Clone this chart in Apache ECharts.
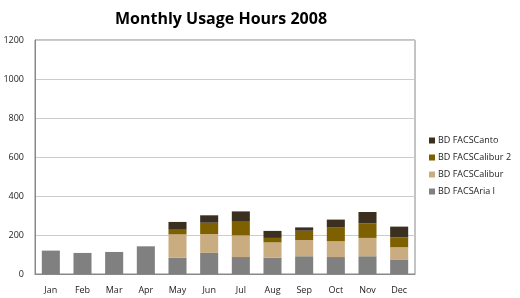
<!DOCTYPE html>
<html>
<head>
<meta charset="utf-8">
<script src="https://cdn.jsdelivr.net/npm/echarts@6/dist/echarts.min.js"></script>
<style>
html,body{margin:0;padding:0;background:#fff;}
#chart{width:520px;height:298px;}
</style>
</head>
<body>
<div id="chart"></div>
<script>
// monthly hours per instrument
var months = ['Jan','Feb','Mar','Apr','May','Jun','Jul','Aug','Sep','Oct','Nov','Dec'];
var ariaI     = [120, 108, 113, 142, 84, 108, 87, 84, 91, 87, 91, 72];
var calibur   = [0, 0, 0, 0, 119, 97, 111, 78, 83, 81, 94, 65];
var calibur2  = [0, 0, 0, 0, 24, 58, 70, 23, 48, 70, 75, 51];
var canto     = [0, 0, 0, 0, 40, 38, 53, 36, 17, 41, 58, 55];
var seriesNames = ['BD FACSAria I','BD FACSCalibur','BD FACSCalibur 2','BD FACSCanto'];
var seriesColors = ['#808080','#c9ad80','#7f6000','#3b3020'];
var yTicks = [0, 200, 400, 600, 800, 1000, 1200];

var chart = echarts.init(document.getElementById('chart'));
var font = "'Open Sans', 'Noto Sans', sans-serif";

function makeSeries(name, data, idx){
	return {
		name: name,
		type: 'bar',
		stack: 'hours',
		barWidth: '57%',
		data: data,
		itemStyle: {color: seriesColors[idx]},
		emphasis: {disabled: true}
	};
}

var opt = {
	animation: false,
	title: {
		text: 'Monthly Usage Hours 2008',
		left: 216,
		textAlign: 'center',
		top: 6,
		textStyle: {fontFamily: font, fontSize: 16, fontWeight: 'bold', color: '#000'}
	},
	legend: {
		orient: 'vertical',
		left: 424,
		top: 131,
		itemWidth: 6,
		itemHeight: 6,
		itemGap: 8,
		icon: 'rect',
		data: seriesNames.slice().reverse(),
		textStyle: {fontFamily: font, fontSize: 9, color: '#222', padding: [0,0,0,-2]}
	},
	grid: {left: 35, right: 105, top: 40, bottom: 24, show: true, borderColor: '#888', borderWidth: 1},
	xAxis: {
		type: 'category',
		data: months,
		axisLine: {lineStyle: {color: '#888'}},
		axisTick: {show: false},
		axisLabel: {fontFamily: font, fontSize: 9, color: '#222', margin: 12}
	},
	yAxis: {
		type: 'value',
		min: yTicks[0],
		max: yTicks[yTicks.length-1],
		interval: 200,
		axisLine: {show: true, lineStyle: {color: '#888'}},
		axisTick: {show: false},
		axisLabel: {fontFamily: font, fontSize: 9, color: '#222', margin: 11, formatter: function(v){ return String(v); }},
		splitLine: {lineStyle: {color: '#cccccc'}}
	},
	series: [
		makeSeries(seriesNames[0], ariaI, 0),
		makeSeries(seriesNames[1], calibur, 1),
		makeSeries(seriesNames[2], calibur2, 2),
		makeSeries(seriesNames[3], canto, 3)
	]
};
chart.setOption(opt, true);
</script>
</body>
</html>
